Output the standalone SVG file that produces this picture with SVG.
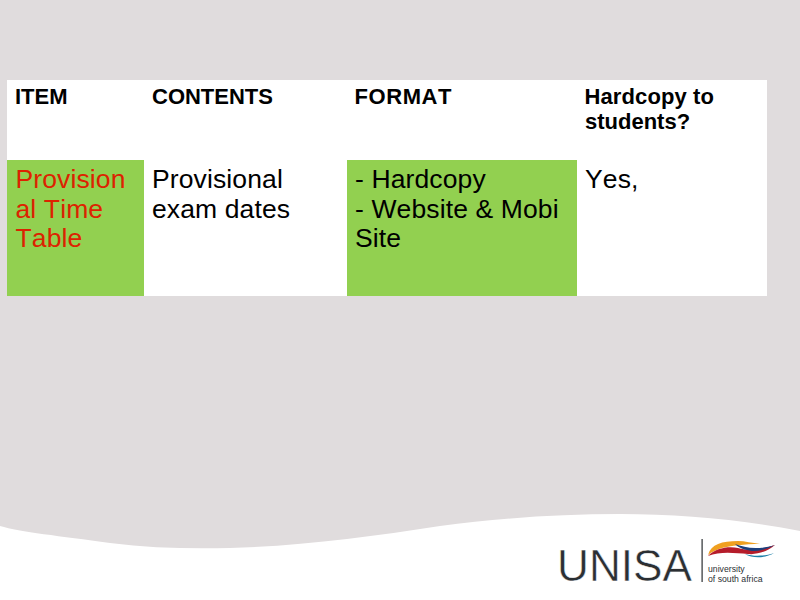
<svg xmlns="http://www.w3.org/2000/svg" width="800" height="600" viewBox="0 0 800 600">
<style>
text{font-family:"Liberation Sans",Arial,sans-serif;fill:#000;font-kerning:none}
.h{font-size:22px;font-weight:bold}
.b{font-size:26.500px;letter-spacing:.12px}
.r{fill:#dd2200}
.g{fill:#92d050}
.logo{font-size:45px;fill:#2b2f33;stroke:#fff;stroke-width:.5px}
.small{font-size:8.700px;fill:#2b2f33}
</style>
<rect width="800" height="600" fill="#e0dcdd"/>
<path d="M0 526C20 532 60 536 110 543C150 548 190 549 230 548C300 546 370 537 440 526C500 518 560 514 620 514C680 514 745 520 800 531V600H0Z" fill="#fff"/>
<g id="table">
<rect x="7" y="80" width="760" height="216" fill="#fff"/>
<rect class="g" x="7" y="160" width="137" height="136"/>
<rect class="g" x="347" y="160" width="230" height="136"/>
</g>
<g id="header">
<text class="h" x="15" y="104">ITEM</text>
<text class="h" x="152" y="104" textLength="121">CONTENTS</text>
<text class="h" x="354.500" y="104" textLength="97">FORMAT</text>
<text class="h" x="584.500" y="104" textLength="129.500">Hardcopy to</text>
<text class="h" x="585" y="129">students?</text>
</g>
<g id="row">
<text class="b r" x="15.500" y="188">Provision</text>
<text class="b r" x="15.500" y="218">al Time</text>
<text class="b r" x="15.500" y="247">Table</text>
<text class="b" x="152" y="188">Provisional</text>
<text class="b" x="152" y="218">exam dates</text>
<text class="b" x="355" y="188">- Hardcopy</text>
<text class="b" x="355" y="218">- Website &amp; Mobi</text>
<text class="b" x="355" y="247">Site</text>
<text class="b" x="585" y="188">Yes,</text>
</g>
<g id="logo">
<text class="logo" x="557" y="581" textLength="135" lengthAdjust="spacingAndGlyphs">UNISA</text>
<rect x="701.500" y="539" width="1.200" height="43" fill="#2b2f33"/>
<path d="M708 555C711 544 722 541 738 541C745 541 752 543 760 544C745 544 730 546 722 548C716 550 711 552 708 555Z" fill="#f0a020"/>
<path d="M708 556C716 548 728 546 738 548C748 551 760 550 775 545C768 551 758 555 748 554C735 553 720 551 708 556Z" fill="#b51c2a"/>
<path d="M735 544C745 548 758 550 775 545C768 549 760 551 752 551C745 550 739 548 735 544Z" fill="#1c3f7c"/>
<path d="M745 554C755 557 765 556 774 553C766 558 753 559 745 554Z" fill="#1d7fa8"/>
<text class="small" x="708" y="572">university</text>
<text class="small" x="708" y="582">of south africa</text>
</g>
</svg>
